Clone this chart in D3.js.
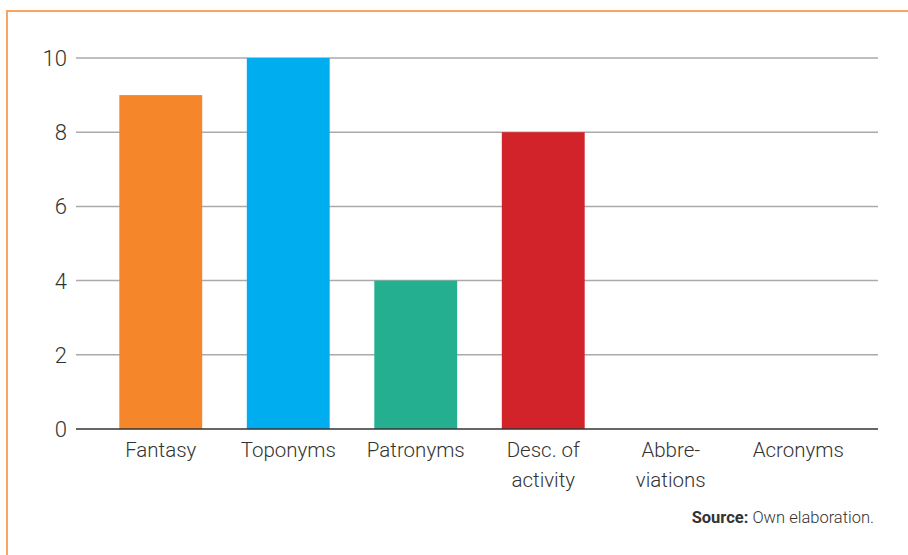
<!DOCTYPE html>
<html>
<head>
<meta charset="utf-8">
<script src="https://cdn.jsdelivr.net/npm/d3@7"></script>
<style>
  body { margin: 0; background: #fff; }
  text { font-family: Roboto, "Liberation Sans", Arial, sans-serif; font-weight: 300; fill: #333; }
</style>
</head>
<body>
<div class="container"></div>
<script>
// data
var categories = [["Fantasy"], ["Toponyms"], ["Patronyms"], ["Desc. of", "activity"], ["Abbre-", "viations"], ["Acronyms"]];
var values = [9, 10, 4, 8, 0, 0];
var colors = ["#f5862a", "#00aeef", "#24b090", "#d2232b", "#888", "#888"];
var yTicks = [0, 2, 4, 6, 8, 10];

var width = 908, height = 555;

var svg = d3.select(".container").append("svg")
  .attr("width", width)
  .attr("height", height);

// orange frame (top + left edge only visible)
svg.append("path")
  .attr("d", "M7,555 V11 H908")
  .attr("fill", "none")
  .attr("stroke", "#f8a462")
  .attr("stroke-width", 2);

var x = d3.scaleBand()
  .domain(d3.range(categories.length))
  .range([97, 862])
  .paddingInner(0.35)
  .paddingOuter(0.175);

var y = d3.scaleLinear()
  .domain([0, 10])
  .range([429, 58]);

// gridlines
svg.append("g")
  .selectAll("line")
  .data(yTicks.filter(function(d) { return d > 0; }))
  .enter().append("line")
  .attr("x1", 76).attr("x2", 878)
  .attr("y1", function(d) { return y(d); })
  .attr("y2", function(d) { return y(d); })
  .attr("stroke", "#aaa")
  .attr("stroke-width", 1.5);

// tick labels
svg.append("g")
  .selectAll("text")
  .data(yTicks)
  .enter().append("text")
  .attr("x", 67)
  .attr("y", function(d) { return y(d); })
  .attr("dy", "0.36em")
  .attr("text-anchor", "end")
  .attr("font-size", 22)
  .text(function(d) { return d; });

// bars
svg.append("g")
  .selectAll("rect")
  .data(values)
  .enter().append("rect")
  .attr("x", function(d, i) { return x(i); })
  .attr("width", x.bandwidth())
  .attr("y", function(d) { return y(d); })
  .attr("height", function(d) { return y(0) - y(d); })
  .attr("fill", function(d, i) { return colors[i]; });

// baseline
svg.append("line")
  .attr("x1", 76).attr("x2", 878)
  .attr("y1", y(0)).attr("y2", y(0))
  .attr("stroke", "#333")
  .attr("stroke-width", 1.5);

// category labels
var labels = svg.append("g")
  .selectAll("text")
  .data(categories)
  .enter().append("text")
  .attr("text-anchor", "middle")
  .attr("font-size", 20.5)
  .attr("transform", function(d, i) {
    return "translate(" + (x(i) + x.bandwidth() / 2) + ",457)";
  });

labels.selectAll("tspan")
  .data(function(d) { return d; })
  .enter().append("tspan")
  .attr("x", 0)
  .attr("y", function(d, i) { return i * 30; })
  .text(function(d) { return d; });

// source note
var src = svg.append("text")
  .attr("x", 874)
  .attr("y", 523)
  .attr("text-anchor", "end")
  .attr("font-size", 16.5);
src.append("tspan").attr("font-weight", "bold").text("Source:");
src.append("tspan").text(" Own elaboration.");
</script>
</body>
</html>
